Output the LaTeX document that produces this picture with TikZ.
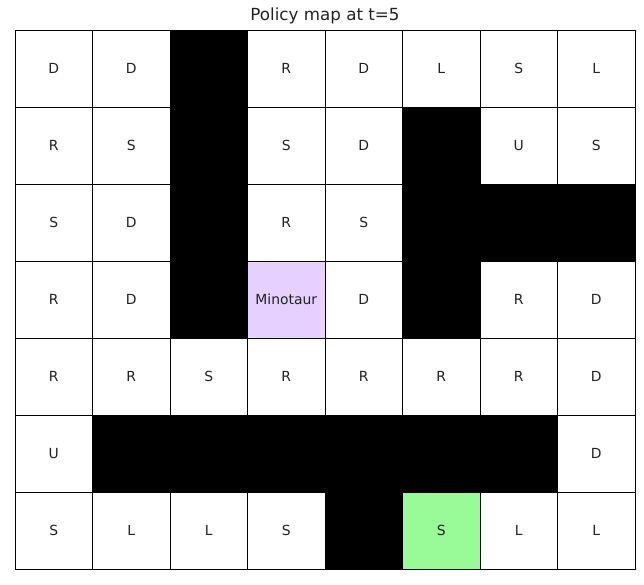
\documentclass[tikz,border=0pt]{standalone}
\usepackage{fontspec}
\setmainfont{DejaVu Sans}
\definecolor{minoc}{HTML}{E6D0FF}
\definecolor{exitc}{HTML}{98FB98}
\definecolor{txtc}{HTML}{222222}
\begin{document}
\begin{tikzpicture}[x=1pt,y=-1pt,
  cellbox/.style={draw=black,line width=1pt,minimum width=77.5pt,minimum height=77pt,inner sep=0pt,anchor=center,text=txtc,font=\fontsize{13.9}{16}\selectfont},
  wall/.style={cellbox,fill=black},
  free/.style={cellbox,fill=white},
  mino/.style={cellbox,fill=minoc},
  goal/.style={cellbox,fill=exitc},
  titletext/.style={font=\fontsize{16.7}{19}\selectfont,text=txtc,inner sep=0pt}]
\useasboundingbox (0,0) rectangle (644,584);
\foreach \i/\j/\t/\s in {
 0/0/D/free,1/0/D/free,2/0//wall,3/0/R/free,4/0/D/free,5/0/L/free,6/0/S/free,7/0/L/free,
 0/1/R/free,1/1/S/free,2/1//wall,3/1/S/free,4/1/D/free,5/1//wall,6/1/U/free,7/1/S/free,
 0/2/S/free,1/2/D/free,2/2//wall,3/2/R/free,4/2/S/free,5/2//wall,6/2//wall,7/2//wall,
 0/3/R/free,1/3/D/free,2/3//wall,3/3/Minotaur/mino,4/3/D/free,5/3//wall,6/3/R/free,7/3/D/free,
 0/4/R/free,1/4/R/free,2/4/S/free,3/4/R/free,4/4/R/free,5/4/R/free,6/4/R/free,7/4/D/free,
 0/5/U/free,1/5//wall,2/5//wall,3/5//wall,4/5//wall,5/5//wall,6/5//wall,7/5/D/free,
 0/6/S/free,1/6/L/free,2/6/L/free,3/6/S/free,4/6//wall,5/6/S/goal,6/6/L/free,7/6/L/free}
 \node[\s] (c-\i-\j) at ({53.75+77.5*\i},{68.5+77*\j}) {\t};
\node[titletext] (title) at (325,16) {Policy map at t=5};
\end{tikzpicture}
\end{document}
